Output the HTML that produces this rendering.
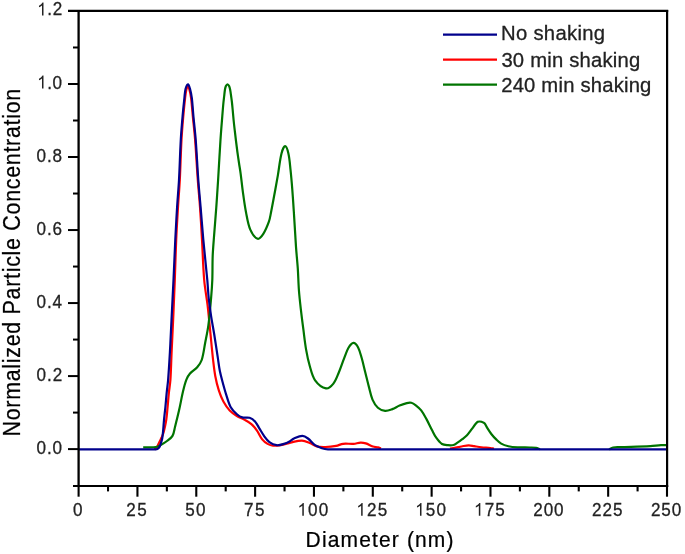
<!DOCTYPE html>
<html><head><meta charset="utf-8"><style>
html,body{margin:0;padding:0;background:#fff;}
svg{display:block;will-change:transform;}
text{font-family:"Liberation Sans",sans-serif;fill:#222;}
.ti{fill:#000;stroke:#000;stroke-width:0.25px;}
path.t{fill:#222;}
.t,.l{stroke:#222;stroke-width:0.3px;}
</style></head><body>
<svg width="685" height="554" viewBox="0 0 685 554">
<rect width="685" height="554" fill="#fff"/>
<g>
<g><path d="M154.50,449.35 C155.00,449.00 155.61,448.76 156.00,448.30 C156.71,447.47 157.27,446.47 157.80,445.50 C158.50,444.21 159.07,442.83 159.70,441.50 C160.33,440.17 161.01,438.85 161.60,437.50 C162.24,436.02 162.92,434.54 163.40,433.00 C164.02,431.04 164.46,429.01 164.90,427.00 C165.43,424.58 165.97,422.15 166.30,419.70 C166.87,415.49 167.19,411.24 167.60,407.00 C168.06,402.20 168.40,397.39 168.90,392.60 C169.34,388.39 170.12,384.22 170.40,380.00 C171.02,370.75 171.18,361.47 171.60,352.20 C172.15,340.17 172.77,328.13 173.30,316.10 C173.83,304.07 174.34,292.04 174.80,280.00 C175.31,266.54 175.61,253.06 176.20,239.60 C176.68,228.76 177.35,217.93 178.00,207.10 C178.55,198.06 179.33,189.04 179.80,180.00 C180.50,166.54 180.76,153.06 181.50,139.60 C181.93,131.76 182.62,123.93 183.30,116.10 C183.82,110.06 184.41,104.02 185.10,98.00 C185.41,95.32 185.68,92.61 186.30,90.00 C186.62,88.67 187.37,86.20 187.90,86.20 C188.43,86.20 189.14,88.68 189.50,90.00 C190.21,92.61 190.76,95.31 191.10,98.00 C191.86,104.01 192.22,110.07 192.80,116.10 C193.55,123.93 194.49,131.75 195.10,139.60 C196.15,153.05 196.82,166.54 197.80,180.00 C198.46,189.04 199.36,198.06 200.00,207.10 C200.76,217.93 201.38,228.76 202.00,239.60 C202.78,253.06 203.04,266.57 204.20,280.00 C204.98,289.04 206.75,297.98 207.80,307.00 C208.85,316.05 209.59,325.13 210.50,334.20 C211.36,342.80 212.12,351.41 213.10,360.00 C213.72,365.41 214.29,370.85 215.30,376.20 C216.22,381.09 217.39,385.97 218.90,390.70 C220.09,394.40 221.54,398.10 223.40,401.50 C225.14,404.70 227.23,407.85 229.70,410.50 C231.73,412.68 234.35,414.40 236.90,416.00 C239.19,417.44 241.83,418.28 244.20,419.60 C246.67,420.98 249.28,422.28 251.40,424.10 C253.48,425.88 255.21,428.15 256.80,430.40 C258.81,433.25 260.04,436.70 262.20,439.40 C263.64,441.20 265.61,442.74 267.60,443.90 C269.21,444.84 271.15,445.58 273.00,445.70 C275.98,445.88 279.11,445.33 282.10,444.80 C284.94,444.30 287.67,443.20 290.50,442.60 C294.27,441.80 298.14,440.54 301.90,440.60 C304.57,440.64 307.25,441.91 309.80,442.90 C312.22,443.84 314.32,445.75 316.80,446.40 C319.56,447.12 322.60,447.08 325.50,447.00 C329.04,446.91 332.62,446.53 336.10,445.90 C338.49,445.47 340.71,444.09 343.10,443.80 C346.54,443.39 350.12,444.04 353.60,443.80 C355.95,443.64 358.26,442.68 360.60,442.60 C362.33,442.54 364.14,442.87 365.80,443.40 C368.24,444.17 370.46,445.70 372.90,446.50 C374.53,447.03 376.32,447.01 378.00,447.40 C379.02,447.64 380.00,448.07 381.00,448.40" fill="none" stroke="#ff0000" stroke-width="2.2" stroke-linejoin="round"/><path d="M450.00,448.60 C451.13,448.40 452.27,448.21 453.40,448.00 C456.10,447.51 458.80,446.98 461.50,446.50 C463.90,446.08 466.30,445.36 468.70,445.30 C470.53,445.26 472.36,445.91 474.20,446.20 C476.60,446.58 478.99,447.03 481.40,447.30 C484.39,447.63 487.41,447.69 490.40,448.00 C491.61,448.12 492.80,448.40 494.00,448.60" fill="none" stroke="#ff0000" stroke-width="2.2" stroke-linejoin="round"/><path d="M143.20,447.30 C147.47,447.20 151.84,447.58 156.00,447.00 C157.81,446.75 159.48,445.68 161.10,444.80 C163.15,443.68 165.16,442.43 167.00,441.00 C168.96,439.47 171.31,437.99 172.50,435.90 C173.98,433.29 174.23,429.92 175.00,426.90 C176.39,421.48 177.77,416.06 179.00,410.60 C180.47,404.12 181.57,397.56 183.10,391.10 C184.00,387.29 184.88,383.42 186.30,379.80 C187.18,377.55 188.43,375.32 190.00,373.50 C192.06,371.12 195.13,369.58 197.20,367.20 C199.03,365.08 200.83,362.65 201.70,360.00 C203.46,354.65 204.02,348.81 205.10,343.20 C206.26,337.18 207.59,331.17 208.40,325.10 C209.59,316.11 210.32,307.04 211.10,298.00 C211.62,292.01 212.07,286.01 212.30,280.00 C212.61,271.94 212.37,263.86 212.70,255.80 C213.00,248.59 213.67,241.40 214.20,234.20 C214.87,225.16 215.65,216.14 216.30,207.10 C216.95,198.07 217.54,189.04 218.10,180.00 C218.94,166.54 219.62,153.06 220.50,139.60 C221.02,131.76 221.68,123.93 222.30,116.10 C222.62,112.07 222.92,108.03 223.30,104.00 C223.55,101.33 223.90,98.67 224.20,96.00 C224.43,94.00 224.57,91.98 224.90,90.00 C225.11,88.75 225.28,87.42 225.80,86.30 C226.15,85.55 226.93,84.40 227.50,84.40 C228.07,84.40 228.84,85.55 229.20,86.30 C229.74,87.42 229.95,88.75 230.20,90.00 C230.59,91.98 230.82,94.00 231.10,96.00 C231.38,98.00 231.67,100.00 231.90,102.00 C232.20,104.66 232.45,107.33 232.70,110.00 C233.01,113.33 233.27,116.67 233.60,120.00 C233.93,123.34 234.32,126.67 234.70,130.00 C235.12,133.67 235.55,137.34 236.00,141.00 C236.45,144.67 236.90,148.34 237.40,152.00 C237.90,155.67 238.45,159.34 239.00,163.00 C239.52,166.44 240.14,169.86 240.60,173.30 C241.37,179.06 241.90,184.85 242.70,190.60 C243.70,197.81 244.61,205.06 246.00,212.20 C247.14,218.06 247.95,224.25 250.30,229.60 C251.85,233.12 255.04,237.92 257.70,238.80 C259.38,239.35 261.97,235.93 263.30,233.90 C265.70,230.23 267.38,225.88 268.90,221.70 C269.91,218.92 270.31,215.92 270.90,213.00 C272.11,207.02 273.19,201.00 274.30,195.00 C275.52,188.37 276.75,181.74 277.90,175.10 C279.15,167.91 279.75,160.52 281.50,153.50 C282.15,150.89 283.94,146.20 285.10,146.20 C286.24,146.20 287.81,150.92 288.40,153.50 C289.61,158.76 289.92,164.29 290.50,169.70 C291.22,176.32 291.77,182.96 292.30,189.60 C292.87,196.79 293.33,204.00 293.80,211.20 C294.57,223.10 295.17,235.01 296.00,246.90 C296.50,254.14 297.31,261.36 297.80,268.60 C298.28,275.73 298.38,282.88 298.90,290.00 C299.34,296.05 300.02,302.08 300.70,308.10 C301.52,315.31 302.46,322.50 303.40,329.70 C304.26,336.34 304.95,343.01 306.10,349.60 C307.05,355.04 308.15,360.50 309.70,365.80 C311.15,370.74 312.21,376.29 315.10,380.30 C317.64,383.82 322.29,387.66 326.00,388.40 C328.32,388.86 331.47,386.01 333.20,383.90 C335.67,380.88 337.01,376.72 338.60,373.00 C340.61,368.29 342.13,363.37 344.00,358.60 C345.43,354.97 346.53,351.09 348.50,347.80 C349.67,345.85 351.74,343.00 353.40,342.90 C354.91,342.80 357.02,345.41 358.00,347.20 C359.78,350.44 360.65,354.35 361.70,358.00 C363.08,362.78 364.10,367.67 365.30,372.50 C366.50,377.30 367.63,382.12 368.90,386.90 C370.03,391.15 370.77,395.61 372.50,399.60 C373.77,402.54 375.57,405.63 377.90,407.70 C379.77,409.37 382.63,410.56 385.10,410.80 C387.43,411.03 389.99,409.93 392.30,409.10 C394.83,408.19 397.11,406.63 399.60,405.60 C401.94,404.63 404.35,403.69 406.80,403.10 C408.25,402.75 409.90,402.46 411.30,402.80 C412.90,403.19 414.45,404.26 415.80,405.30 C417.75,406.80 419.71,408.45 421.20,410.40 C423.31,413.15 424.92,416.33 426.60,419.40 C428.55,422.97 430.21,426.70 432.10,430.30 C433.41,432.80 434.56,435.43 436.20,437.70 C437.86,440.00 439.71,442.54 442.00,444.00 C443.64,445.04 445.98,445.02 448.00,445.20 C449.82,445.36 451.79,445.47 453.50,445.00 C454.95,444.60 456.20,443.46 457.50,442.60 C459.14,441.52 460.75,440.40 462.30,439.20 C463.92,437.94 465.60,436.69 467.00,435.20 C468.73,433.36 470.16,431.22 471.70,429.20 C473.00,427.49 474.14,425.65 475.50,424.00 C476.17,423.18 476.93,422.33 477.80,421.80 C478.30,421.50 479.00,421.50 479.60,421.50 C480.27,421.50 480.98,421.57 481.60,421.80 C482.61,422.17 483.80,422.52 484.50,423.30 C485.73,424.66 486.37,426.60 487.40,428.20 C488.71,430.24 490.01,432.30 491.50,434.20 C492.94,436.03 494.53,437.78 496.20,439.40 C497.76,440.91 499.33,442.56 501.20,443.60 C503.39,444.82 505.93,445.64 508.40,446.20 C511.36,446.87 514.45,447.12 517.50,447.30 C521.65,447.55 525.83,447.39 530.00,447.50 C532.00,447.55 534.06,447.44 536.00,447.80 C537.39,448.06 538.67,448.83 540.00,449.35" fill="none" stroke="#007400" stroke-width="2.2" stroke-linejoin="round"/><path d="M609.00,449.35 C610.33,448.73 611.58,447.78 613.00,447.50 C615.25,447.06 617.67,447.29 620.00,447.20 C630.13,446.82 640.27,446.59 650.40,446.10 C653.94,445.93 657.46,445.40 661.00,445.20 C662.73,445.10 664.47,445.20 666.20,445.20" fill="none" stroke="#007400" stroke-width="2.2" stroke-linejoin="round"/><path d="M78.60,449.35 C102.40,449.35 126.20,449.35 150.00,449.35 C151.83,449.35 153.67,449.41 155.50,449.35 C156.10,449.33 156.79,449.38 157.30,449.10 C158.09,448.66 158.91,447.98 159.40,447.20 C160.08,446.11 160.40,444.75 160.80,443.50 C161.33,441.85 161.89,440.20 162.20,438.50 C162.65,436.03 162.86,433.51 163.10,431.00 C163.46,427.34 163.65,423.66 164.00,420.00 C164.42,415.66 164.97,411.34 165.40,407.00 C165.87,402.20 166.22,397.40 166.70,392.60 C167.12,388.40 167.77,384.21 168.10,380.00 C168.83,370.75 169.38,361.47 169.90,352.20 C170.58,340.17 171.10,328.13 171.70,316.10 C172.30,304.07 172.93,292.03 173.50,280.00 C174.13,266.53 174.64,253.06 175.30,239.60 C175.84,228.76 176.43,217.93 177.10,207.10 C177.66,198.06 178.50,189.04 179.00,180.00 C179.74,166.54 180.04,153.06 180.80,139.60 C181.24,131.76 181.92,123.93 182.60,116.10 C183.12,110.06 183.74,104.03 184.40,98.00 C184.74,94.93 184.81,91.74 185.60,88.80 C186.04,87.17 187.35,84.30 188.10,84.30 C188.81,84.30 189.58,87.24 190.00,88.80 C190.81,91.80 191.41,94.90 191.80,98.00 C192.55,104.00 192.83,110.07 193.40,116.10 C194.13,123.94 195.10,131.75 195.70,139.60 C196.73,153.05 197.32,166.54 198.30,180.00 C198.96,189.04 199.84,198.07 200.60,207.10 C201.51,217.93 202.31,228.78 203.30,239.60 C204.54,253.08 206.05,266.53 207.30,280.00 C207.85,285.99 208.07,292.02 208.70,298.00 C209.34,304.05 210.19,310.08 211.10,316.10 C212.02,322.15 213.22,328.16 214.20,334.20 C215.46,341.99 216.61,349.80 217.80,357.60 C218.47,362.00 218.95,366.44 219.80,370.80 C220.52,374.47 221.53,378.09 222.50,381.70 C223.63,385.92 224.76,390.14 226.10,394.30 C227.46,398.54 228.51,403.04 230.60,406.90 C232.11,409.68 234.54,412.08 236.90,414.20 C238.44,415.58 240.34,416.85 242.30,417.40 C244.58,418.05 247.36,417.09 249.60,417.80 C251.59,418.43 253.57,419.84 255.00,421.40 C256.87,423.44 258.00,426.20 259.50,428.60 C261.00,431.00 262.33,433.52 264.00,435.80 C265.63,438.02 267.24,440.49 269.40,442.10 C271.44,443.62 274.12,444.89 276.60,445.20 C278.95,445.49 281.55,444.60 283.90,443.90 C286.02,443.27 288.05,442.24 290.00,441.20 C291.41,440.44 292.54,439.13 294.00,438.50 C296.67,437.36 299.66,435.90 302.40,435.90 C304.33,435.90 306.37,437.29 308.00,438.50 C310.57,440.39 312.39,443.39 315.00,445.20 C317.05,446.62 319.60,447.43 322.00,448.20 C323.93,448.82 325.98,449.17 328.00,449.35 C330.31,449.55 332.67,449.35 335.00,449.35 C445.67,449.35 556.33,449.35 667.00,449.35" fill="none" stroke="#00008c" stroke-width="2.2" stroke-linejoin="round"/></g>
<g><line x1="78.6" y1="10" x2="78.6" y2="487" stroke="#000" stroke-width="2.3"/><line x1="667.1" y1="10" x2="667.1" y2="487" stroke="#000" stroke-width="2.2"/><line x1="68" y1="10.8" x2="668.2" y2="10.8" stroke="#000" stroke-width="2.2"/><line x1="73" y1="486" x2="668.2" y2="486" stroke="#000" stroke-width="2.1"/><line x1="68" y1="449.10" x2="78.6" y2="449.10" stroke="#000" stroke-width="2"/><line x1="73" y1="412.59" x2="78.6" y2="412.59" stroke="#000" stroke-width="2"/><line x1="68" y1="376.08" x2="78.6" y2="376.08" stroke="#000" stroke-width="2"/><line x1="73" y1="339.57" x2="78.6" y2="339.57" stroke="#000" stroke-width="2"/><line x1="68" y1="303.06" x2="78.6" y2="303.06" stroke="#000" stroke-width="2"/><line x1="73" y1="266.55" x2="78.6" y2="266.55" stroke="#000" stroke-width="2"/><line x1="68" y1="230.04" x2="78.6" y2="230.04" stroke="#000" stroke-width="2"/><line x1="73" y1="193.53" x2="78.6" y2="193.53" stroke="#000" stroke-width="2"/><line x1="68" y1="157.02" x2="78.6" y2="157.02" stroke="#000" stroke-width="2"/><line x1="73" y1="120.51" x2="78.6" y2="120.51" stroke="#000" stroke-width="2"/><line x1="68" y1="84.00" x2="78.6" y2="84.00" stroke="#000" stroke-width="2"/><line x1="73" y1="47.49" x2="78.6" y2="47.49" stroke="#000" stroke-width="2"/><line x1="78.60" y1="486" x2="78.60" y2="496.70" stroke="#000" stroke-width="2.1"/><line x1="108.02" y1="486" x2="108.02" y2="491.40" stroke="#000" stroke-width="2.1"/><line x1="137.44" y1="486" x2="137.44" y2="496.70" stroke="#000" stroke-width="2.1"/><line x1="166.86" y1="486" x2="166.86" y2="491.40" stroke="#000" stroke-width="2.1"/><line x1="196.28" y1="486" x2="196.28" y2="496.70" stroke="#000" stroke-width="2.1"/><line x1="225.70" y1="486" x2="225.70" y2="491.40" stroke="#000" stroke-width="2.1"/><line x1="255.12" y1="486" x2="255.12" y2="496.70" stroke="#000" stroke-width="2.1"/><line x1="284.54" y1="486" x2="284.54" y2="491.40" stroke="#000" stroke-width="2.1"/><line x1="313.96" y1="486" x2="313.96" y2="496.70" stroke="#000" stroke-width="2.1"/><line x1="343.38" y1="486" x2="343.38" y2="491.40" stroke="#000" stroke-width="2.1"/><line x1="372.80" y1="486" x2="372.80" y2="496.70" stroke="#000" stroke-width="2.1"/><line x1="402.22" y1="486" x2="402.22" y2="491.40" stroke="#000" stroke-width="2.1"/><line x1="431.64" y1="486" x2="431.64" y2="496.70" stroke="#000" stroke-width="2.1"/><line x1="461.06" y1="486" x2="461.06" y2="491.40" stroke="#000" stroke-width="2.1"/><line x1="490.48" y1="486" x2="490.48" y2="496.70" stroke="#000" stroke-width="2.1"/><line x1="519.90" y1="486" x2="519.90" y2="491.40" stroke="#000" stroke-width="2.1"/><line x1="549.32" y1="486" x2="549.32" y2="496.70" stroke="#000" stroke-width="2.1"/><line x1="578.74" y1="486" x2="578.74" y2="491.40" stroke="#000" stroke-width="2.1"/><line x1="608.16" y1="486" x2="608.16" y2="496.70" stroke="#000" stroke-width="2.1"/><line x1="637.58" y1="486" x2="637.58" y2="491.40" stroke="#000" stroke-width="2.1"/><line x1="667.00" y1="486" x2="667.00" y2="496.70" stroke="#000" stroke-width="2.1"/></g>
<g><text transform="translate(36.62,453.60) scale(0.92,1)" font-size="18.6" textLength="27.59" lengthAdjust="spacing" class="t">0.0</text><text transform="translate(36.62,380.58) scale(0.92,1)" font-size="18.6" textLength="27.87" lengthAdjust="spacing" class="t">0.2</text><text transform="translate(36.62,307.56) scale(0.92,1)" font-size="18.6" textLength="27.50" lengthAdjust="spacing" class="t">0.4</text><text transform="translate(36.62,234.54) scale(0.92,1)" font-size="18.6" textLength="27.69" lengthAdjust="spacing" class="t">0.6</text><text transform="translate(36.62,161.52) scale(0.92,1)" font-size="18.6" textLength="27.69" lengthAdjust="spacing" class="t">0.8</text><path transform="translate(37.12,88.50) scale(0.00836,-0.00880)" d="M763 0L583 0L583 1147C540 1106 483 1064 413 1023C343 982 280 951 223 930L223 1104C323 1151 410 1208 485 1274C560 1340 613 1404 644 1466L763 1466Z" class="t"/><text transform="translate(37.12,88.50) scale(0.92,1)" font-size="18.6" textLength="27.16" lengthAdjust="spacing" class="t"> .0</text><path transform="translate(37.12,15.48) scale(0.00836,-0.00880)" d="M763 0L583 0L583 1147C540 1106 483 1064 413 1023C343 982 280 951 223 930L223 1104C323 1151 410 1208 485 1274C560 1340 613 1404 644 1466L763 1466Z" class="t"/><text transform="translate(37.12,15.48) scale(0.92,1)" font-size="18.6" textLength="27.44" lengthAdjust="spacing" class="t"> .2</text><text transform="translate(72.94,515.80) scale(0.92,1)" font-size="18.6" class="t">0</text><text transform="translate(126.33,515.80) scale(0.92,1)" font-size="18.6" textLength="22.26" lengthAdjust="spacing" class="t">25</text><text transform="translate(185.35,515.80) scale(0.92,1)" font-size="18.6" textLength="21.98" lengthAdjust="spacing" class="t">50</text><text transform="translate(244.01,515.80) scale(0.92,1)" font-size="18.6" textLength="22.26" lengthAdjust="spacing" class="t">75</text><path transform="translate(297.43,515.80) scale(0.00836,-0.00880)" d="M763 0L583 0L583 1147C540 1106 483 1064 413 1023C343 982 280 951 223 930L223 1104C323 1151 410 1208 485 1274C560 1340 613 1404 644 1466L763 1466Z" class="t"/><text transform="translate(297.43,515.80) scale(0.92,1)" font-size="18.6" textLength="33.52" lengthAdjust="spacing" class="t"> 00</text><path transform="translate(356.27,515.80) scale(0.00836,-0.00880)" d="M763 0L583 0L583 1147C540 1106 483 1064 413 1023C343 982 280 951 223 930L223 1104C323 1151 410 1208 485 1274C560 1340 613 1404 644 1466L763 1466Z" class="t"/><text transform="translate(356.27,515.80) scale(0.92,1)" font-size="18.6" textLength="33.62" lengthAdjust="spacing" class="t"> 25</text><path transform="translate(415.11,515.80) scale(0.00836,-0.00880)" d="M763 0L583 0L583 1147C540 1106 483 1064 413 1023C343 982 280 951 223 930L223 1104C323 1151 410 1208 485 1274C560 1340 613 1404 644 1466L763 1466Z" class="t"/><text transform="translate(415.11,515.80) scale(0.92,1)" font-size="18.6" textLength="33.52" lengthAdjust="spacing" class="t"> 50</text><path transform="translate(473.95,515.80) scale(0.00836,-0.00880)" d="M763 0L583 0L583 1147C540 1106 483 1064 413 1023C343 982 280 951 223 930L223 1104C323 1151 410 1208 485 1274C560 1340 613 1404 644 1466L763 1466Z" class="t"/><text transform="translate(473.95,515.80) scale(0.92,1)" font-size="18.6" textLength="33.62" lengthAdjust="spacing" class="t"> 75</text><text transform="translate(533.21,515.80) scale(0.92,1)" font-size="18.6" textLength="33.06" lengthAdjust="spacing" class="t">200</text><text transform="translate(592.05,515.80) scale(0.92,1)" font-size="18.6" textLength="33.15" lengthAdjust="spacing" class="t">225</text><text transform="translate(650.89,515.80) scale(0.92,1)" font-size="18.6" textLength="33.06" lengthAdjust="spacing" class="t">250</text><text transform="translate(305.62,546.60) scale(0.93,1)" font-size="22.6" textLength="158.97" lengthAdjust="spacing" class="ti">Diameter (nm)</text><text transform="translate(20.20,436.51) rotate(-90) scale(0.9,1)" font-size="23.8" textLength="386.42" lengthAdjust="spacing" class="ti">Normalized Particle Concentration</text><line x1="443" y1="34.6" x2="497" y2="34.6" stroke="#00008c" stroke-width="2.2"/><line x1="443" y1="59.6" x2="497" y2="59.6" stroke="#ff0000" stroke-width="2.2"/><line x1="443" y1="84.6" x2="497" y2="84.6" stroke="#007400" stroke-width="2.2"/><text transform="translate(500.98,40.30) scale(0.97,1)" font-size="20.9" textLength="107.32" lengthAdjust="spacing" class="l">No shaking</text><text transform="translate(501.39,66.50) scale(0.97,1)" font-size="20.9" textLength="143.25" lengthAdjust="spacing" class="l">30 min shaking</text><text transform="translate(501.19,91.70) scale(0.97,1)" font-size="20.9" textLength="154.83" lengthAdjust="spacing" class="l">240 min shaking</text></g>
</g>
</svg>
</body></html>
